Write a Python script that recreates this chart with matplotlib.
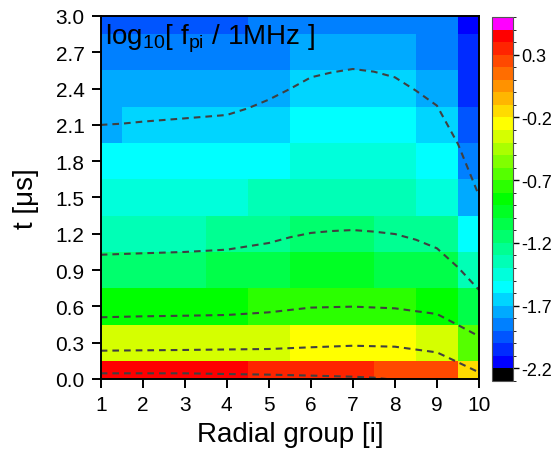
import numpy as np
import matplotlib
matplotlib.use("Agg")
import matplotlib.pyplot as plt
from matplotlib.colors import ListedColormap, BoundaryNorm

plt.rcParams['font.family'] = ['Liberation Sans', 'DejaVu Sans']
plt.rcParams['mathtext.fontset'] = 'custom'
plt.rcParams['mathtext.rm'] = 'Liberation Sans'
plt.rcParams['mathtext.it'] = 'Liberation Sans'
plt.rcParams['axes.unicode_minus'] = False

# ---- data ----
radial_group = [1, 2, 3, 4, 5, 6, 7, 8, 9, 10]
t_us = [0.0, 0.3, 0.6, 0.9, 1.2, 1.5, 1.8, 2.1, 2.4, 2.7, 3.0]

# log10(f_pi / 1MHz), rows follow t_us, columns follow radial_group
row_t00 = [0.45, 0.45, 0.45, 0.45, 0.35, 0.35, 0.35, 0.25, 0.25, -0.15]
row_t03 = [-0.35, -0.35, -0.35, -0.35, -0.35, -0.25, -0.25, -0.25, -0.35, -0.65]
row_t06 = [-0.85, -0.85, -0.85, -0.85, -0.75, -0.75, -0.75, -0.75, -0.85, -1.05]
row_t09 = [-1.15, -1.15, -1.15, -1.05, -1.05, -0.95, -0.95, -1.05, -1.05, -1.35]
row_t12 = [-1.35, -1.35, -1.35, -1.25, -1.25, -1.15, -1.15, -1.25, -1.25, -1.55]
row_t15 = [-1.45, -1.45, -1.45, -1.45, -1.35, -1.35, -1.35, -1.35, -1.45, -1.75]
row_t18 = [-1.55, -1.55, -1.55, -1.55, -1.55, -1.45, -1.45, -1.45, -1.55, -1.85]
row_t21 = [-1.75, -1.65, -1.65, -1.65, -1.65, -1.55, -1.55, -1.55, -1.65, -1.95]
row_t24 = [-1.75, -1.75, -1.75, -1.75, -1.75, -1.65, -1.65, -1.65, -1.75, -2.05]
row_t27 = [-1.85, -1.85, -1.85, -1.85, -1.85, -1.75, -1.75, -1.75, -1.85, -2.05]
row_t30 = [-1.95, -1.95, -1.95, -1.95, -1.85, -1.85, -1.85, -1.85, -1.85, -2.15]

# dashed contour-like curves (x, t)
curve1_x = [1, 1.5, 2, 3, 4, 4.5, 5, 5.5, 6, 6.5, 7, 7.5, 8, 8.5, 9, 9.5, 10]
curve1_t = [2.10, 2.11, 2.127, 2.154, 2.182, 2.237, 2.309, 2.397, 2.493, 2.534, 2.562, 2.540, 2.493, 2.383, 2.259, 1.942, 1.515]
curve2_x = [1, 2, 3, 4, 5, 5.5, 6, 6.5, 7, 7.5, 8, 8.5, 9, 9.5, 10]
curve2_t = [1.027, 1.039, 1.050, 1.069, 1.124, 1.171, 1.207, 1.223, 1.231, 1.218, 1.198, 1.151, 1.080, 0.923, 0.736]
curve3_x = [1, 2, 3, 4, 5, 6, 7, 8, 9, 9.5, 10]
curve3_t = [0.510, 0.518, 0.523, 0.529, 0.551, 0.590, 0.598, 0.584, 0.537, 0.446, 0.353]
curve4_x = [1, 3, 5, 6, 7, 8, 9, 9.5, 10]
curve4_t = [0.234, 0.240, 0.248, 0.262, 0.275, 0.267, 0.220, 0.138, 0.055]
curve5_x = [1, 3, 4, 5, 6, 7, 7.5, 7.8]
curve5_t = [0.047, 0.047, 0.041, 0.036, 0.028, 0.019, 0.011, 0.0]

cbar_ticks = [-2.2, -1.7, -1.2, -0.7, -0.2, 0.3]

# ---- colormap: black (below), 27 rainbow levels, magenta (above) ----
def lerp(c0, c1, n):
    return [tuple((np.array(c0) + (np.array(c1) - np.array(c0)) * i / n) / 255.0) for i in range(n)]

rainbow = (lerp((0, 0, 255), (0, 255, 255), 6) +
           lerp((0, 255, 255), (0, 255, 0), 7) +
           lerp((0, 255, 0), (255, 255, 0), 6) +
           lerp((255, 255, 0), (255, 0, 0), 7) +
           [(1.0, 0.0, 0.0)])
colors = [(0, 0, 0)] + rainbow + [(1.0, 0.0, 1.0)]
cmap = ListedColormap(colors)
bounds = np.round(np.arange(-2.3, 0.6001, 0.1), 2)
norm = BoundaryNorm(bounds, cmap.N)

Z = np.array([row_t00, row_t03, row_t06, row_t09, row_t12, row_t15,
              row_t18, row_t21, row_t24, row_t27, row_t30])

fig = plt.figure(figsize=(5.58, 4.52), dpi=100)
ax = fig.add_axes([0.1805, 0.1593, 0.6779, 0.8031])
mesh = ax.pcolormesh(radial_group, t_us, Z, cmap=cmap, norm=norm, shading='nearest')

ls = (0, (3.2, 2.4))
for cx, ct in [(curve1_x, curve1_t), (curve2_x, curve2_t), (curve3_x, curve3_t),
               (curve4_x, curve4_t), (curve5_x, curve5_t)]:
    ax.plot(cx, ct, color='#404040', lw=1.5, linestyle=ls)

ax.set_xlim(1, 10)
ax.set_ylim(0, 3.0)
ax.set_xticks(radial_group)
ax.set_yticks(t_us)
ax.set_yticklabels([f"{v:.1f}" for v in t_us])
ax.tick_params(direction='out', length=6.5, width=1.4, labelsize=15)
ax.tick_params(axis='y', pad=5)
ax.tick_params(axis='x', pad=5)
for s in ax.spines.values():
    s.set_linewidth(1.4)
ax.set_xlabel('Radial group [i]', fontsize=20, labelpad=5)
ax.set_ylabel('t [μs]', fontsize=20, labelpad=12)

ax.text(0.012, 0.923, r'log$_{\mathregular{10}}$[ f$_{\mathregular{pi}}$ / 1MHz ]',
        transform=ax.transAxes, fontsize=20, va='baseline', ha='left')

cax = fig.add_axes([0.8817, 0.1549, 0.0376, 0.8053])
cb = fig.colorbar(mesh, cax=cax, boundaries=bounds, ticks=cbar_ticks)
cb.ax.set_yticklabels([f"{v:.1f}" for v in cbar_ticks])
cb.ax.tick_params(direction='out', length=4, width=1.0, labelsize=13, pad=2)
cb.outline.set_linewidth(0.8)
cb.outline.set_edgecolor('#555555')

fig.savefig('out.png', dpi=100)
